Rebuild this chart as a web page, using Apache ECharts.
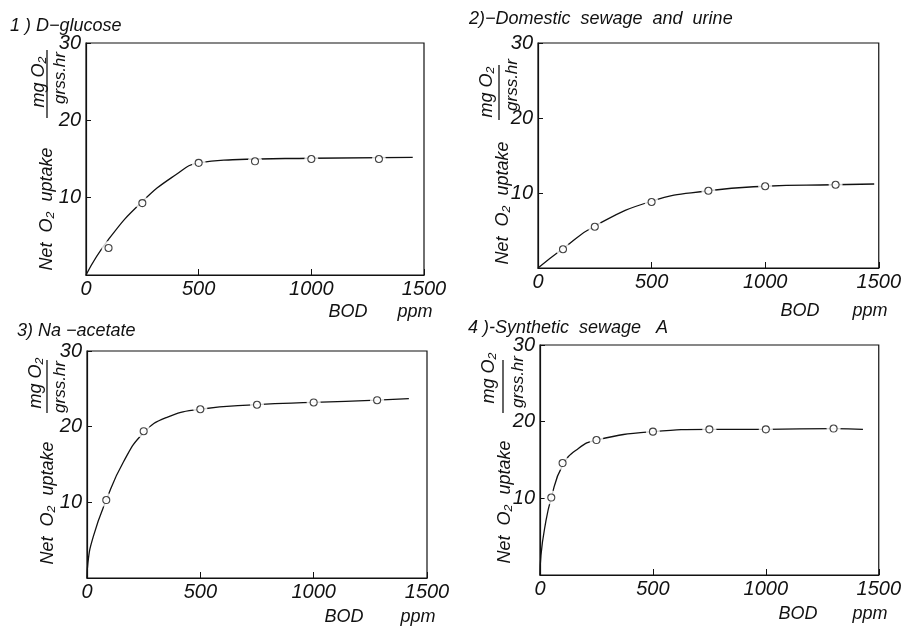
<!DOCTYPE html>
<html>
<head>
<meta charset="utf-8">
<script src="https://cdn.jsdelivr.net/npm/echarts@6/dist/echarts.min.js"></script>
<style>
html,body{margin:0;padding:0;background:#fff;}
#c{width:904px;height:627px;}
</style>
</head>
<body>
<div id="c"></div>
<script>
// ---- data (BOD ppm vs Net O2 uptake, mg O2 / grss.hr) ----
var panelTitles = ['1 ) D\u2212glucose', '2)\u2212Domestic  sewage  and  urine', '3) Na \u2212acetate', '4 )-Synthetic  sewage   A'];
var xTicks = [0, 500, 1000, 1500];
var yTicks = [0, 10, 20, 30];

var bodPts1 = [100, 250, 500, 750, 1000, 1300];
var uptake1 = [3.5, 9.3, 14.5, 14.7, 15.0, 15.0];
var curveX1 = [0, 100, 250, 400, 500, 650, 1000, 1450];
var curveY1 = [0, 4.6, 9.5, 13.0, 14.5, 14.9, 15.1, 15.2];

var bodPts2 = [110, 250, 500, 750, 1000, 1310];
var uptake2 = [2.5, 5.5, 8.8, 10.3, 10.9, 11.1];
var curveX2 = [0, 110, 250, 500, 750, 1000, 1300, 1480];
var curveY2 = [0, 2.6, 5.6, 8.9, 10.3, 10.9, 11.1, 11.2];

var bodPts3 = [85, 250, 500, 750, 1000, 1280];
var uptake3 = [10.3, 19.4, 22.3, 22.9, 23.2, 23.5];
var curveX3 = [0, 4, 28, 85, 160, 250, 350, 500, 750, 1000, 1280, 1420];
var curveY3 = [0, 2, 5.5, 10.3, 15.3, 19.2, 21.2, 22.3, 22.9, 23.2, 23.5, 23.7];

var bodPts4 = [50, 100, 250, 500, 750, 1000, 1300];
var uptake4 = [10.1, 14.6, 17.6, 18.7, 19.0, 19.0, 19.1];
var curveX4 = [0, 4, 20, 50, 100, 170, 250, 500, 750, 1000, 1300, 1430];
var curveY4 = [0, 2.5, 6.0, 10.1, 14.3, 16.5, 17.6, 18.7, 19.0, 19.0, 19.1, 19.0];

var pts = [[bodPts1, uptake1], [bodPts2, uptake2], [bodPts3, uptake3], [bodPts4, uptake4]];
var curves = [[curveX1, curveY1], [curveX2, curveY2], [curveX3, curveY3], [curveX4, curveY4]];

// ---- layout ----
var FF = '"Liberation Sans", "DejaVu Sans", sans-serif';
var grids = [
  {left: 86, top: 43, width: 338, height: 232},
  {left: 538, top: 43, width: 342, height: 225},
  {left: 87, top: 351, width: 340, height: 227},
  {left: 540, top: 345, width: 343, height: 230}
];
var titlePos = [[10, 26], [469, 19], [17, 331], [468, 328]];
var netPos = [[47, 209], [503, 203], [48, 503], [505, 502]];
var numPos = [[39, 82], [487, 92], [36, 383], [489, 378]];
var fracLine = [[47, 50, 118], [499, 65, 120], [47, 360, 413], [503, 360, 413]];
var denPos = [[60, 78], [512, 85], [60, 387], [518, 382]];
var bodPos = [[348, 312], [800, 311], [344, 617], [798, 614]];
var ppmPos = [[415, 312], [870, 311], [418, 617], [870, 614]];

function zip(a, b) { return a.map(function (v, i) { return [v, b[i]]; }); }

var option = {
  backgroundColor: '#fff',
  animation: false,
  grid: grids.map(function (g) {
    return Object.assign({show: true, borderColor: '#111', borderWidth: 1.2, backgroundColor: 'transparent'}, g);
  }),
  xAxis: grids.map(function (g, i) {
    return {
      gridIndex: i, type: 'value', min: xTicks[0], max: xTicks[xTicks.length - 1], interval: 500,
      axisLine: {show: true, lineStyle: {color: '#111', width: 1.2}},
      axisTick: {show: true, inside: true, length: 6, lineStyle: {color: '#111'}},
      splitLine: {show: false},
      axisLabel: {color: '#111', fontStyle: 'italic', fontSize: 20, fontFamily: FF, margin: 4,
        formatter: function (v) { return String(v); }}
    };
  }),
  yAxis: grids.map(function (g, i) {
    return {
      gridIndex: i, type: 'value', min: yTicks[0], max: yTicks[yTicks.length - 1], interval: 10,
      axisLine: {show: true, lineStyle: {color: '#111', width: 1.2}},
      axisTick: {show: true, inside: true, length: 5, lineStyle: {color: '#111'}},
      splitLine: {show: false},
      axisLabel: {color: '#111', fontStyle: 'italic', fontSize: 20, fontFamily: FF, margin: 5,
        formatter: function (v) { return v === 0 ? '' : String(v); }}
    };
  }),
  series: [],
  graphic: []
};

function txt(x, y, s, size, rot) {
  return {type: 'text', x: x, y: y, rotation: rot || 0, z: 10,
    style: {text: s, fill: '#111', font: 'italic ' + size + 'px ' + FF,
      align: 'center', verticalAlign: 'middle', textAlign: 'center', textVerticalAlign: 'middle'}};
}

for (var i = 0; i < 4; i++) {
  option.series.push({
    type: 'line', xAxisIndex: i, yAxisIndex: i, data: zip(curves[i][0], curves[i][1]),
    smooth: 0.5, showSymbol: false, symbol: 'none',
    lineStyle: {color: '#111', width: 1.3}, z: 2
  });
  option.series.push({
    type: 'scatter', xAxisIndex: i, yAxisIndex: i, data: zip(pts[i][0], pts[i][1]),
    symbol: 'circle', symbolSize: 14, itemStyle: {color: '#fff', borderWidth: 0}, z: 3, silent: true
  });
  option.series.push({
    type: 'scatter', xAxisIndex: i, yAxisIndex: i, data: zip(pts[i][0], pts[i][1]),
    symbol: 'circle', symbolSize: 7, itemStyle: {color: '#fff', borderColor: '#111', borderWidth: 1.1}, z: 4
  });

  option.graphic.push({type: 'text', x: titlePos[i][0], y: titlePos[i][1], z: 10,
    style: {text: panelTitles[i], fill: '#111', font: 'italic 18px ' + FF,
      align: 'left', verticalAlign: 'middle', textAlign: 'left', textVerticalAlign: 'middle'}});
  option.graphic.push(txt(netPos[i][0], netPos[i][1], 'Net  O\u2082  uptake', 18, Math.PI / 2));
  option.graphic.push(txt(numPos[i][0], numPos[i][1], 'mg O\u2082', 18, Math.PI / 2));
  option.graphic.push(txt(denPos[i][0], denPos[i][1], 'grss.hr', 17, Math.PI / 2));
  option.graphic.push({type: 'line', z: 10, shape: {x1: fracLine[i][0], y1: fracLine[i][1], x2: fracLine[i][0], y2: fracLine[i][2]},
    style: {stroke: '#111', lineWidth: 1.3}});
  option.graphic.push(txt(bodPos[i][0], bodPos[i][1], 'BOD', 18, 0));
  option.graphic.push(txt(ppmPos[i][0], ppmPos[i][1], 'ppm', 18, 0));
}

var chart = echarts.init(document.getElementById('c'));
chart.setOption(option);
</script>
</body>
</html>
